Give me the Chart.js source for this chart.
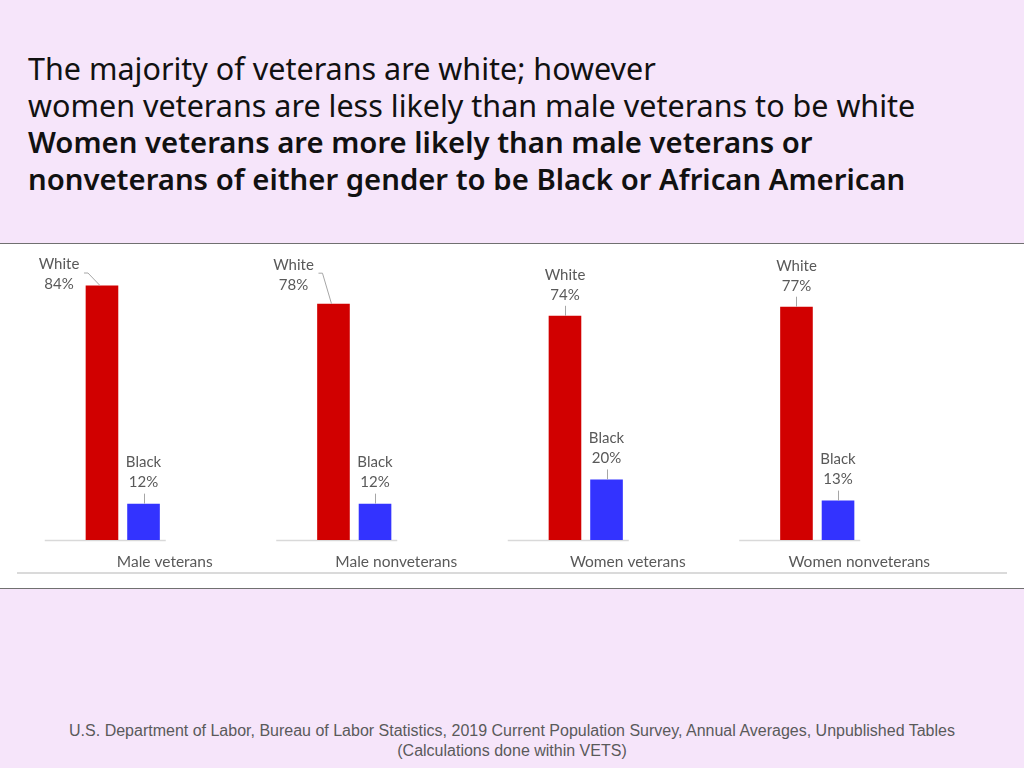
<!DOCTYPE html>
<html>
<head>
<meta charset="utf-8">
<script src="https://cdn.jsdelivr.net/npm/chart.js@4"></script>
<style>
  html, body { margin: 0; padding: 0; }
  body {
    width: 1024px; height: 768px; position: relative; overflow: hidden;
    background: #f6e5fa;
  }
  .title {
    position: absolute; left: 28px; top: 50px;
    font-family: "Noto Sans", "Liberation Sans", sans-serif;
    color: #111;
  }
  .title div { height: 37px; line-height: 37px; white-space: nowrap; }
  .title .plain { font-size: 30.5px; }
  .title .strong { font-size: 29.3px; font-weight: 600; }
  .panel {
    position: absolute; left: 0; top: 243px; width: 1024px; height: 344px;
    background: #fff;
    border-top: 1px solid #707070; border-bottom: 1px solid #707070;
  }
  .panel-rule {
    position: absolute; left: 17px; top: 328px; width: 990px; height: 0;
    border-top: 2px solid #dadada;
  }
  .chart-box { position: absolute; left: 0; top: 0; width: 1024px; height: 344px; }
  .source {
    position: absolute; left: 0; top: 721px; width: 1024px; text-align: center;
    font-family: "Liberation Sans Narrow", "Liberation Sans", sans-serif;
    font-size: 16px; line-height: 20px; color: #5a5a5a;
  }
</style>
</head>
<body>
<div class="title">
  <div class="plain">The majority of veterans are white; however</div>
  <div class="plain">women veterans are less likely than male veterans to be white</div>
  <div class="strong">Women veterans are more likely than male veterans or</div>
  <div class="strong">nonveterans of either gender to be Black or African American</div>
</div>

<div class="panel">
  <div class="chart-box"><canvas id="race-chart"></canvas></div>
  <div class="panel-rule"></div>
</div>

<div class="source">
  U.S. Department of Labor, Bureau of Labor Statistics, 2019 Current Population Survey, Annual Averages, Unpublished Tables<br>
  (Calculations done within VETS)
</div>

<script>
(function () {
  "use strict";

  /* ── data ── */
  var CATEGORIES = ["Male veterans", "Male nonveterans", "Women veterans", "Women nonveterans"];
  var SERIES = ["White", "Black"];
  var WHITE_PCT = [84, 78, 74, 77];
  var BLACK_PCT = [12, 12, 20, 13];

  /* ── look ── */
  var RED = "#d10000";
  var BLUE = "#3333ff";
  var GREY_TEXT = "#595959";
  var FONT_FAMILY = "Lato, 'Open Sans', sans-serif";

  // labels that sit off to the left of the bar top, keyed dataset-category ([dx, dy])
  var LABEL_NUDGE = { "0-0": [-43, 20], "0-1": [-40, 2] };

  /* ── plugin: short axis segment under each pair of bars ── */
  var axisSegments = {
    id: "axisSegments",
    beforeDatasetsDraw: function (chart) {
      var ctx = chart.ctx;
      var xs = chart.scales.x;
      var y = chart.chartArea.bottom + 0.5;
      ctx.save();
      ctx.strokeStyle = "#d9d9d9";
      ctx.lineWidth = 1.5;
      CATEGORIES.forEach(function (c, i) {
        var cx = xs.getPixelForValue(i);
        ctx.beginPath();
        ctx.moveTo(cx - 78, y);
        ctx.lineTo(cx + 43, y);
        ctx.stroke();
      });
      ctx.restore();
    }
  };

  /* ── plugin: "White / 84%" style labels with leader lines ── */
  var valueLabels = {
    id: "valueLabels",
    afterDatasetsDraw: function (chart) {
      var ctx = chart.ctx;
      ctx.save();
      ctx.font = "15px " + FONT_FAMILY;
      ctx.fillStyle = GREY_TEXT;
      ctx.strokeStyle = "#a6a6a6";
      ctx.lineWidth = 1;
      ctx.textAlign = "center";
      ctx.textBaseline = "middle";

      chart.data.datasets.forEach(function (ds, di) {
        chart.getDatasetMeta(di).data.forEach(function (bar, i) {
          var x = bar.x, top = bar.y;
          var nudge = LABEL_NUDGE[di + "-" + i];
          var tx = x, ty = top - 21;
          ctx.beginPath();
          if (nudge) {
            tx = x + nudge[0];
            ty = ty + nudge[1];
            ctx.moveTo(tx + 25, ty - 11.5);
            ctx.lineTo(tx + 29, ty - 11.5);
            ctx.lineTo(x - 2, top);
          } else {
            ctx.moveTo(Math.round(x) + 0.5, top);
            ctx.lineTo(Math.round(x) + 0.5, top - 10);
          }
          ctx.stroke();
          ctx.fillText(ds.data[i] + "%", tx, ty);
          ctx.fillText(ds.label, tx, ty - 20);
        });
      });
      ctx.restore();
    }
  };

  new Chart(document.getElementById("race-chart").getContext("2d"), {
    type: "bar",
    data: {
      labels: CATEGORIES,
      datasets: [
        { label: SERIES[0], data: WHITE_PCT, backgroundColor: RED },
        { label: SERIES[1], data: BLACK_PCT, backgroundColor: BLUE },
      ],
    },
    options: {
      responsive: true,
      maintainAspectRatio: false,
      animation: false,
      categoryPercentage: 0.359,
      barPercentage: 0.785,
      layout: { padding: { left: 7, right: 91, top: 10, bottom: 0 } },
      plugins: {
        legend: { display: false },
        tooltip: { enabled: false },
      },
      scales: {
        x: {
          grid: { display: false, drawTicks: false },
          border: { display: false },
          ticks: {
            color: GREY_TEXT,
            font: { family: FONT_FAMILY, size: 15.5 },
            labelOffset: 42,
            padding: 13,
          },
          afterFit: function (scale) { scale.height = 48; },
        },
        y: {
          display: false,
          min: 0,
          max: 94.4,
        },
      },
    },
    plugins: [axisSegments, valueLabels],
  });
})();
</script>
</body>
</html>
